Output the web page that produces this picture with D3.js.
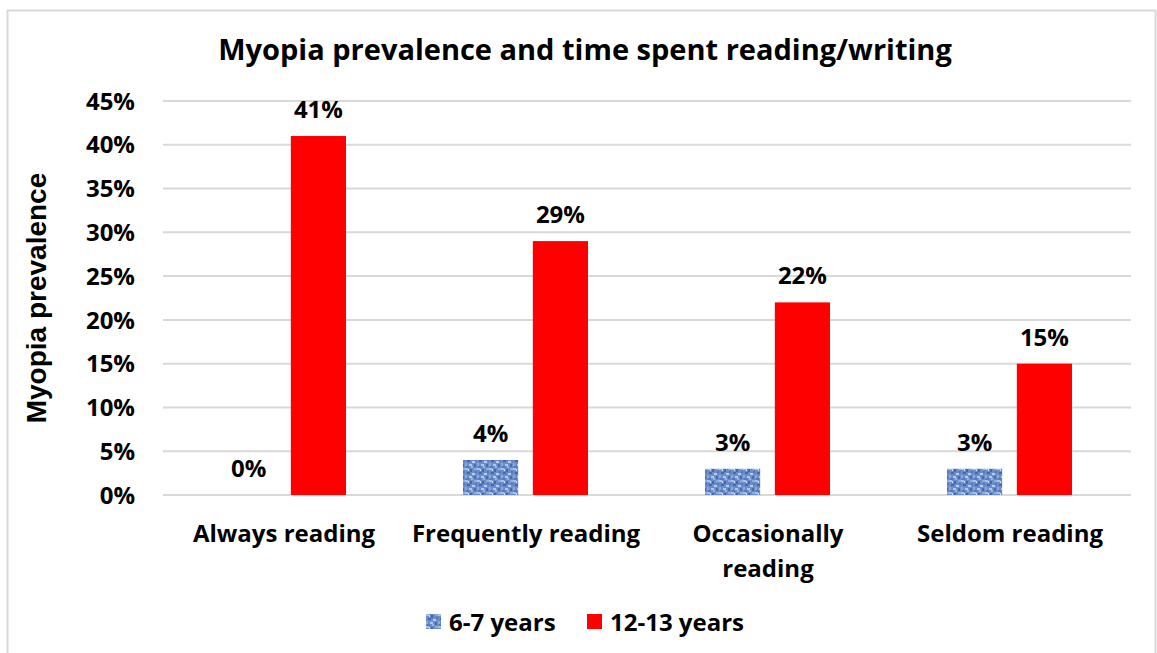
<!DOCTYPE html>
<html>
<head>
<meta charset="utf-8">
<script src="https://cdn.jsdelivr.net/npm/d3@7"></script>
<style>
  body { margin: 0; background: #fff; }
  text { font-family: "Open Sans", Lato, sans-serif; font-weight: bold; fill: #000; }
</style>
</head>
<body>
<svg id="chart" width="1157" height="653"></svg>
<script>
// data
var categories = ["Always reading", "Frequently reading", "Occasionally reading", "Seldom reading"];
var seriesNames = ["6-7 years", "12-13 years"];
var young = [0, 4, 3, 3];
var old = [41, 29, 22, 15];
var yTicks = [0, 5, 10, 15, 20, 25, 30, 35, 40, 45];

var svg = d3.select("#chart");
var margin = { left: 163, right: 1131, top: 101, bottom: 495 };

// border round the chart
svg.append("rect")
    .attr("x", 7.5).attr("y", 10.5)
    .attr("width", 1148).attr("height", 650)
    .attr("fill", "#fff")
    .attr("stroke", "#d9d9d9")
    .attr("stroke-width", 2);

// texture for the blue bars
var defs = svg.append("defs");
var pat = defs.append("pattern")
    .attr("id", "blueTex")
    .attr("patternUnits", "userSpaceOnUse")
    .attr("width", 12).attr("height", 12);
pat.append("rect").attr("width", 12).attr("height", 12).attr("fill", "#6a8dca");
var specks = [
    [0, 0, 3, 2, "#a9c1e8"], [5, 1, 2, 3, "#4368ab"], [9, 0, 3, 2, "#8eabdc"],
    [2, 4, 3, 2, "#4368ab"], [7, 5, 3, 2, "#b7cbec"], [0, 7, 2, 3, "#8aa8da"],
    [4, 8, 3, 2, "#b0c6ea"], [9, 8, 2, 3, "#466bae"], [1, 10, 3, 2, "#5579ba"],
    [6, 10, 2, 2, "#9ab4e0"], [10, 3, 2, 2, "#5579ba"], [3, 1, 1, 2, "#d0ddf3"]
];
specks.forEach(function (s) {
    pat.append("rect").attr("x", s[0]).attr("y", s[1])
        .attr("width", s[2]).attr("height", s[3]).attr("fill", s[4]);
});

var colors = ["url(#blueTex)", "#ff0000"];

var x0 = d3.scaleBand()
    .domain(categories)
    .range([margin.left, margin.right]);

var x1 = d3.scaleBand()
    .domain(seriesNames)
    .range([58, 242 - 59])
    .paddingInner(0.21);

var y = d3.scaleLinear()
    .domain([0, 45])
    .range([margin.bottom, margin.top]);

// gridlines
svg.append("g")
    .selectAll("line")
    .data(yTicks)
    .enter()
    .append("line")
    .attr("x1", margin.left).attr("x2", margin.right)
    .attr("y1", function (d) { return y(d); })
    .attr("y2", function (d) { return y(d); })
    .attr("stroke", "#d9d9d9")
    .attr("stroke-width", 2);

// y axis labels
svg.append("g")
    .selectAll("text")
    .data(yTicks)
    .enter()
    .append("text")
    .attr("x", 135)
    .attr("y", function (d) { return y(d); })
    .attr("dy", "0.36em")
    .attr("text-anchor", "end")
    .style("font-size", "24px")
    .text(function (d) { return d + "%"; });

// bars
var rows = categories.map(function (c, i) {
    return { cat: c, vals: [young[i], old[i]] };
});

var groups = svg.append("g")
    .selectAll("g")
    .data(rows)
    .enter()
    .append("g")
    .attr("transform", function (d) { return "translate(" + x0(d.cat) + ",0)"; });

groups.selectAll("rect")
    .data(function (d) { return d.vals.map(function (v, j) { return { s: seriesNames[j], v: v, j: j }; }); })
    .enter()
    .append("rect")
    .attr("x", function (d) { return x1(d.s); })
    .attr("width", x1.bandwidth())
    .attr("y", function (d) { return y(d.v); })
    .attr("height", function (d) { return y(0) - y(d.v); })
    .attr("fill", function (d) { return colors[d.j]; });

groups.selectAll("text")
    .data(function (d) { return d.vals.map(function (v, j) { return { s: seriesNames[j], v: v }; }); })
    .enter()
    .append("text")
    .attr("x", function (d) { return x1(d.s) + x1.bandwidth() / 2; })
    .attr("y", function (d) { return y(d.v) - 18; })
    .attr("text-anchor", "middle")
    .style("font-size", "24px")
    .text(function (d) { return d.v + "%"; });

// category labels, wrapped like the original
var catLines = {
    "Always reading": ["Always reading"],
    "Frequently reading": ["Frequently reading"],
    "Occasionally reading": ["Occasionally", "reading"],
    "Seldom reading": ["Seldom reading"]
};
var catText = svg.append("g")
    .selectAll("text")
    .data(categories)
    .enter()
    .append("text")
    .attr("x", function (d) { return x0(d) + x0.bandwidth() / 2; })
    .attr("y", 542)
    .attr("text-anchor", "middle")
    .style("font-size", "24px");
catText.selectAll("tspan")
    .data(function (d) { return catLines[d]; })
    .enter()
    .append("tspan")
    .attr("x", function () { var p = this.parentNode.__data__; return x0(p) + x0.bandwidth() / 2; })
    .attr("dy", function (d, i) { return i === 0 ? 0 : 35; })
    .text(function (d) { return d; });

// title
svg.append("text")
    .attr("x", 585)
    .attr("y", 60)
    .attr("text-anchor", "middle")
    .style("font-size", "29px")
    .text("Myopia prevalence and time spent reading/writing");

// y axis title
svg.append("text")
    .attr("transform", "translate(46,298) rotate(-90)")
    .attr("text-anchor", "middle")
    .style("font-family", "'Liberation Sans', Arial, sans-serif")
    .style("font-size", "28px")
    .text("Myopia prevalence");

// legend
var legendX = [426, 587];
var legend = svg.append("g")
    .selectAll("g")
    .data(seriesNames)
    .enter()
    .append("g")
    .attr("transform", function (d, i) { return "translate(" + legendX[i] + ",614)"; });
legend.append("rect")
    .attr("width", 15).attr("height", 15)
    .attr("fill", function (d, i) { return colors[i]; });
legend.append("text")
    .attr("x", 23)
    .attr("y", 8)
    .attr("dy", "0.36em")
    .style("font-size", "24px")
    .text(function (d) { return d; });
</script>
</body>
</html>
